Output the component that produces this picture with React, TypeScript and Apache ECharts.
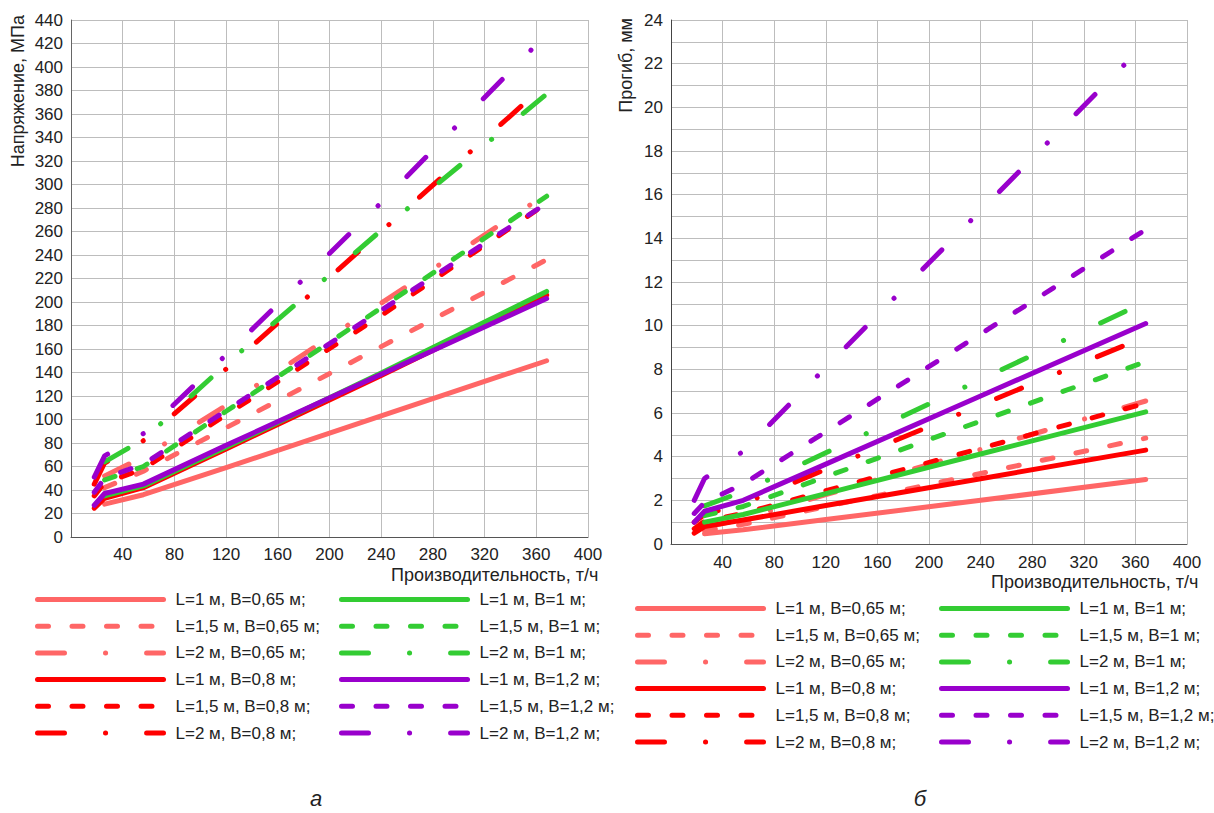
import React, { useEffect, useRef } from "react";
import * as echarts from "echarts";

// Производительность, т/ч (точки перегиба кривых)
const xNarrow = [26, 56, 120, 240, 368]; // B = 0,65 м и B = 1 м
const xWide = [18, 26, 56, 120, 240, 368]; // B = 0,8 м и B = 1,2 м

const names = [
  "L=1 м, B=0,65 м;",
  "L=1,5 м, B=0,65 м;",
  "L=2 м, B=0,65 м;",
  "L=1 м, B=0,8 м;",
  "L=1,5 м, B=0,8 м;",
  "L=2 м, B=0,8 м;",
  "L=1 м, B=1 м;",
  "L=1,5 м, B=1 м;",
  "L=2 м, B=1 м;",
  "L=1 м, B=1,2 м;",
  "L=1,5 м, B=1,2 м;",
  "L=2 м, B=1,2 м;",
];

// а) Напряжение, МПа
const stressB065L1 = [28, 36, 59, 103, 150];
const stressB065L15 = [42, 56, 93, 162, 236];
const stressB065L2 = [52, 68, 112, 199, 292];
const stressB08L1 = [24.5, 33, 42, 75, 137.5, 206];
const stressB08L15 = [35, 46, 58, 104, 188.5, 284];
const stressB08L2 = [45, 63, 82, 143, 260, 386];
const stressB1L1 = [35, 43.5, 76.3, 139.5, 209];
const stressB1L15 = [48.5, 60, 107, 195, 290];
const stressB1L2 = [64, 83, 147, 261, 377];
const stressB12L1 = [27, 37, 45, 78, 138.5, 203];
const stressB12L15 = [38, 50, 62, 107.6, 193, 284];
const stressB12L2 = [51, 69, 88, 155, 284.5, 428];

// б) Прогиб, мм
const deflB065L1 = [0.47, 0.65, 1.12, 2.0, 2.95];
const deflB065L15 = [0.6, 0.9, 1.71, 3.23, 4.85];
const deflB065L2 = [0.75, 1.15, 2.26, 4.33, 6.55];
const deflB08L1 = [0.5, 0.8, 1.1, 1.76, 2.99, 4.3];
const deflB08L15 = [0.7, 1.05, 1.4, 2.44, 4.38, 6.45];
const deflB08L2 = [1.0, 1.35, 1.85, 3.42, 6.36, 9.5];
const deflB1L1 = [1.0, 1.35, 2.31, 4.12, 6.05];
const deflB1L15 = [1.3, 1.72, 3.08, 5.63, 8.35];
const deflB1L2 = [1.75, 2.4, 4.18, 7.53, 11.1];
const deflB12L1 = [1.0, 1.5, 2.0, 3.66, 6.78, 10.1];
const deflB12L15 = [1.4, 1.9, 2.75, 5.14, 9.62, 14.4];
const deflB12L2 = [2.0, 3.0, 4.25, 8.09, 15.27, 22.95];

const stressTicks = { min: 0, max: 440, interval: 20 };
const deflTicks = { min: 0, max: 24, interval: 1 };
const prodTicks = { min: 0, max: 400, interval: 40 };

const PINK = "#ff6666";
const RED = "#ff0000";
const GREEN = "#33cc33";
const PURPLE = "#9900cc";
const SOLID = "solid";
const DASHED = [11, 23.5];
const DASHDOT = [27, 41, 0.1, 41];

const colors = [PINK, PINK, PINK, RED, RED, RED, GREEN, GREEN, GREEN, PURPLE, PURPLE, PURPLE];
const dashes: any[] = [SOLID, DASHED, DASHDOT, SOLID, DASHED, DASHDOT, SOLID, DASHED, DASHDOT, SOLID, DASHED, DASHDOT];
const xsOf = [xNarrow, xNarrow, xNarrow, xWide, xWide, xWide, xNarrow, xNarrow, xNarrow, xWide, xWide, xWide];

const stressSets = [
  stressB065L1, stressB065L15, stressB065L2,
  stressB08L1, stressB08L15, stressB08L2,
  stressB1L1, stressB1L15, stressB1L2,
  stressB12L1, stressB12L15, stressB12L2,
];
const deflSets = [
  deflB065L1, deflB065L15, deflB065L2,
  deflB08L1, deflB08L15, deflB08L2,
  deflB1L1, deflB1L15, deflB1L2,
  deflB12L1, deflB12L15, deflB12L2,
];

const FONT = '"Liberation Sans", Arial, sans-serif';
const TEXT = "#222";

function makeSeries(sets: number[][], axisIndex: number) {
  return sets.map((ys, i) => ({
    name: names[i],
    type: "line",
    xAxisIndex: axisIndex,
    yAxisIndex: axisIndex,
    symbol: "none",
    silent: true,
    data: ys.map((y, k) => [xsOf[i][k], y]),
    lineStyle: { color: colors[i], width: 5, type: dashes[i], cap: "round", join: "round" },
    itemStyle: { color: colors[i] },
  }));
}

function makeLegend(left: number, top: number, data: string[]) {
  return {
    orient: "vertical",
    left,
    top,
    padding: 0,
    itemWidth: 126,
    itemHeight: 17,
    itemGap: 9.7,
    selectedMode: false,
    data,
    lineStyle: { width: "inherit" },
    itemStyle: { opacity: 0 },
    textStyle: { fontFamily: FONT, fontSize: 17, color: TEXT, lineHeight: 17, padding: [0, 0, 0, 7] },
  };
}

function xAxisOf(gridIndex: number, margin: number) {
  return {
    type: "value",
    gridIndex,
    ...prodTicks,
    axisLine: { show: true, onZero: false, lineStyle: { color: "#555", width: 1 } },
    axisTick: { show: false },
    axisLabel: { showMinLabel: false, fontFamily: FONT, fontSize: 17, color: TEXT, margin },
    splitLine: { show: true, lineStyle: { color: "#bdbdbd", width: 1 } },
  };
}

export default function App() {
  const ref = useRef<HTMLDivElement>(null);
  useEffect(() => {
    if (!ref.current) return;
    const chart = echarts.init(ref.current, undefined, { renderer: "svg" });
    chart.setOption({
      animation: false,
      backgroundColor: "#ffffff",
      grid: [
        { left: 71, top: 20, width: 517, height: 517 },
        { left: 671, top: 20, width: 516, height: 524 },
      ],
      xAxis: [xAxisOf(0, 9), xAxisOf(1, 10)],
      yAxis: [
        {
          type: "value",
          gridIndex: 0,
          ...stressTicks,
          axisLine: { show: true, lineStyle: { color: "#666", width: 1 } },
          axisTick: { show: false },
          axisLabel: { fontFamily: FONT, fontSize: 17, color: TEXT, margin: 8 },
          splitLine: { show: true, lineStyle: { color: "#bdbdbd", width: 1 } },
        },
        {
          type: "value",
          gridIndex: 1,
          ...deflTicks,
          axisLine: { show: true, lineStyle: { color: "#444", width: 1 } },
          axisTick: { show: false },
          axisLabel: {
            fontFamily: FONT,
            fontSize: 17,
            color: TEXT,
            margin: 8,
            formatter: (v: number) => (v % 2 === 0 ? String(v) : ""),
          },
          splitLine: { show: true, lineStyle: { color: "#bdbdbd", width: 1 } },
        },
      ],
      legend: [
        makeLegend(35, 591, names.slice(0, 6)),
        makeLegend(339, 591, names.slice(6)),
        makeLegend(635, 600, names.slice(0, 6)),
        makeLegend(939, 600, names.slice(6)),
      ],
      graphic: [
        {
          type: "text", x: 18, y: 15, rotation: Math.PI / 2,
          style: { text: "Напряжение, МПа", font: `18px ${FONT}`, fill: TEXT, align: "right", verticalAlign: "middle" },
        },
        {
          type: "text", x: 626, y: 18, rotation: Math.PI / 2,
          style: { text: "Прогиб, мм", font: `18px ${FONT}`, fill: TEXT, align: "right", verticalAlign: "middle" },
        },
        {
          type: "text", x: 391, y: 575,
          style: { text: "Производительность, т/ч", font: `18px ${FONT}`, fill: TEXT, align: "left", verticalAlign: "middle" },
        },
        {
          type: "text", x: 991, y: 582,
          style: { text: "Производительность, т/ч", font: `18px ${FONT}`, fill: TEXT, align: "left", verticalAlign: "middle" },
        },
        {
          type: "text", x: 316, y: 798,
          style: { text: "а", font: `italic 22px ${FONT}`, fill: TEXT, align: "center", verticalAlign: "middle" },
        },
        {
          type: "text", x: 920, y: 798,
          style: { text: "б", font: `italic 22px ${FONT}`, fill: TEXT, align: "center", verticalAlign: "middle" },
        },
      ],
      series: [...makeSeries(stressSets, 0), ...makeSeries(deflSets, 1)],
    });
    return () => chart.dispose();
  }, []);
  return (
    <div
      ref={ref}
      style={{ position: "absolute", left: 0, top: 0, width: 1214, height: 813, background: "#fff" }}
    />
  );
}
